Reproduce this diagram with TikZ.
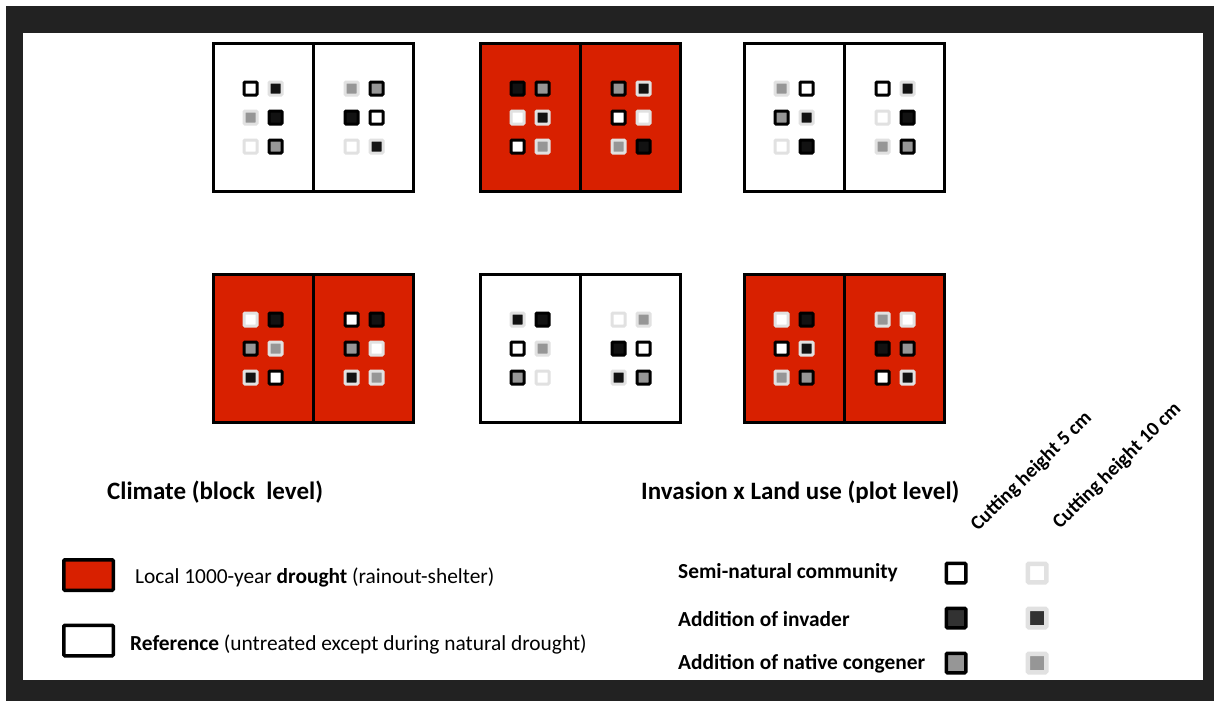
\documentclass[tikz,border=0pt]{standalone}
\usepackage{fontspec}
\setmainfont{Carlito}
\definecolor{drought}{RGB}{216,32,0}
\definecolor{framec}{RGB}{34,34,34}
\definecolor{lightb}{RGB}{225,225,225}
\definecolor{invfill}{RGB}{50,50,50}
\definecolor{invblk}{RGB}{18,18,18}
\definecolor{natfill}{RGB}{150,150,150}
\tikzset{
  sq/.style={rectangle, inner sep=0pt, minimum size=13pt, line width=3pt, rounded corners=1pt},
  S5/.style={sq, draw=black, fill=white},
  I5/.style={sq, draw=black, fill=invblk},
  N5/.style={sq, draw=black, fill=natfill},
  S10/.style={sq, draw=lightb, fill=white},
  I10/.style={sq, draw=lightb, fill=invblk},
  N10/.style={sq, draw=lightb, fill=natfill},
  lsqa/.style={rectangle, inner sep=0pt, minimum size=19.5pt, line width=3.5pt, rounded corners=1pt, draw=black},
  lsqb/.style={rectangle, inner sep=0pt, minimum size=18.5pt, line width=4.5pt, rounded corners=1pt, draw=lightb},
  blockbox/.style={rectangle, draw=black, line width=3pt, minimum width=200pt, minimum height=148pt, inner sep=0pt},
  divider/.style={line width=2.5pt},
  legbox/.style={rectangle, draw=black, line width=3.5pt, minimum width=49.5pt, minimum height=30.5pt, inner sep=0pt, rounded corners=1pt},
  txt/.style={inner sep=0pt, anchor=west, font=\fontsize{21.4}{25}\selectfont},
  btxt/.style={inner sep=0pt, anchor=west, font=\fontsize{21.4}{25}\selectfont\bfseries},
  title/.style={inner sep=0pt, anchor=west, font=\fontsize{25}{30}\selectfont\bfseries},
  rot/.style={inner sep=0pt, anchor=base west, rotate=44.5, font=\fontsize{20}{24}\selectfont\bfseries},
}
\newcommand\fillblock[2]{%
  \foreach \t [count=\i from 0] in {#2} {
    \pgfmathtruncatemacro\h{int(\i/6)}
    \pgfmathtruncatemacro\r{int(mod(\i,6)/2)}
    \pgfmathtruncatemacro\c{mod(\i,2)}
    \pgfmathsetmacro\dx{-63+\c*25+\h*101}
    \pgfmathsetmacro\dy{-29+\r*29}
    \node[\t] (#1-\i) at ([shift={(\dx,\dy)}]#1.center) {};
  }%
  \draw[divider] (#1.north) -- (#1.south);
}
\begin{document}
\begin{tikzpicture}[x=1pt, y=-1pt]
\useasboundingbox (0,0) rectangle (1220,707);
\fill[white] (0,0) rectangle (1220,707);
\fill[framec] (6,6) rectangle (1214,701);
\fill[white] (23,33) rectangle (1203,680);

% blocks
\node[blockbox, fill=white] (b1) at (313.5,117.5) {};
\node[blockbox, fill=drought] (b2) at (580.5,117.5) {};
\node[blockbox, fill=white] (b3) at (844.5,117.5) {};
\node[blockbox, fill=drought] (b4) at (313.5,348.5) {};
\node[blockbox, fill=white] (b5) at (580.5,348.5) {};
\node[blockbox, fill=drought] (b6) at (844.5,348.5) {};

\fillblock{b1}{S5,I10,N10,I5,S10,N5,N10,N5,I5,S5,S10,I10}
\fillblock{b2}{I5,N5,S10,I10,S5,N10,N5,I10,S5,S10,N10,I5}
\fillblock{b3}{N10,S5,N5,I10,S10,I5,S5,I10,S10,I5,N10,N5}
\fillblock{b4}{S10,I5,N5,N10,I10,S5,S5,I5,N5,S10,I10,N10}
\fillblock{b5}{I10,I5,S5,N10,N5,S10,S10,N10,I5,S5,I10,N5}
\fillblock{b6}{S10,I5,S5,I10,N10,N5,N10,S10,I5,N5,S5,I10}

% titles
\node[title] (tclim) at (107,492) {Climate (block\ \ level)};
\node[title] (tinv) at (641,492) {Invasion x Land use (plot level)};

% climate legend
\node[legbox, fill=drought] (ldr) at (88.5,575) {};
\node[legbox, fill=white] (lref) at (88.5,640.5) {};
\node[txt] (tdr) at (135,577) {Local 1000-year \textbf{drought} (rainout-shelter)};
\node[txt] (tref) at (130,645) {\textbf{Reference} (untreated except during natural drought)};

% plot legend
\node[rot] (c5) at (978,532) {Cutting height 5 cm};
\node[rot] (c10) at (1060,530) {Cutting height 10 cm};

\node[btxt] (tsn) at (678,573) {Semi-natural community};
\node[btxt] (tinvd) at (678,619) {Addition of invader};
\node[btxt] (tnat) at (678,664) {Addition of native congener};

\node[lsqa, fill=white] (s5) at (956,573) {};
\node[lsqa, fill=invfill] (i5) at (956,618) {};
\node[lsqa, fill=natfill] (n5) at (956,663) {};
\node[lsqb, fill=white] (s10) at (1037,573) {};
\node[lsqb, fill=invfill] (i10) at (1037,618) {};
\node[lsqb, fill=natfill] (n10) at (1037,663) {};
\end{tikzpicture}
\end{document}
